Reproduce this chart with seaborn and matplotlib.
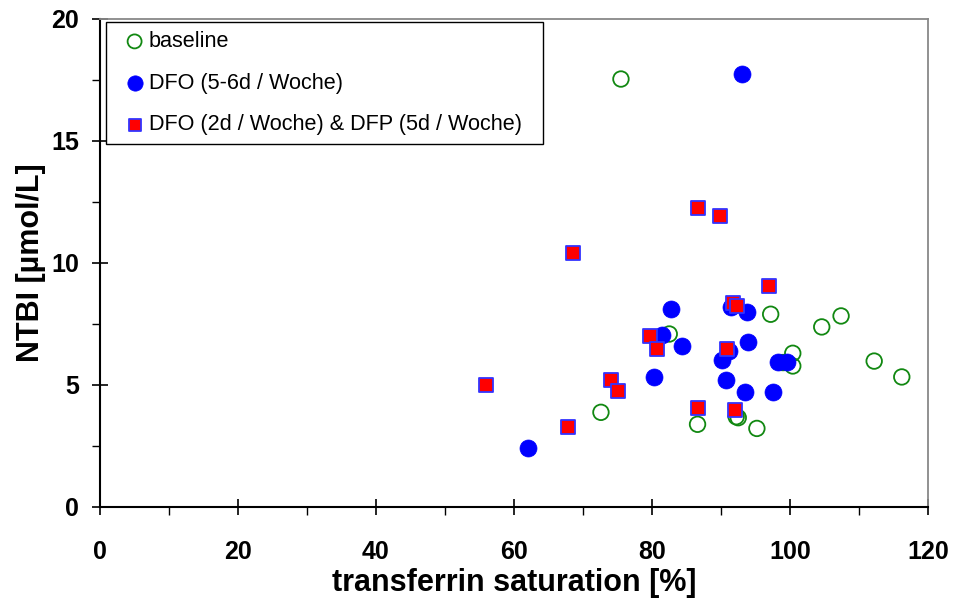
import matplotlib
matplotlib.use("Agg")
import matplotlib.pyplot as plt
import seaborn as sns
import pandas as pd
from matplotlib.ticker import MultipleLocator

# ---- data ----
baseline_tsat = [75.5, 82.5, 97.2, 104.6, 107.4, 100.4, 100.4, 99.0, 112.2, 116.2, 72.6, 86.6, 92.2, 92.5, 95.2]
baseline_ntbi = [17.54, 7.09, 7.90, 7.38, 7.83, 6.30, 5.78, 5.92, 5.98, 5.33, 3.88, 3.39, 3.70, 3.66, 3.22]

dfo_tsat = [93.0, 82.7, 81.4, 84.4, 91.4, 93.7, 93.9, 91.2, 90.2, 98.2, 99.6, 80.3, 90.7, 93.5, 97.6, 62.0]
dfo_ntbi = [17.75, 8.13, 7.05, 6.61, 8.21, 8.00, 6.76, 6.39, 6.02, 5.96, 5.96, 5.34, 5.20, 4.73, 4.70, 2.41]

combo_tsat = [86.7, 89.9, 68.5, 97.0, 91.7, 92.3, 79.7, 80.7, 90.9, 55.9, 74.1, 75.1, 86.7, 92.0, 67.8]
combo_ntbi = [12.24, 11.93, 10.42, 9.06, 8.37, 8.25, 7.01, 6.49, 6.46, 5.00, 5.19, 4.77, 4.07, 3.98, 3.27]

labels = ["baseline", "DFO (5-6d / Woche)", "DFO (2d / Woche) & DFP (5d / Woche)"]
x_ticks = [0, 20, 40, 60, 80, 100, 120]
y_ticks = [0, 5, 10, 15, 20]

sns.set_theme(style="white")
plt.rcParams["font.family"] = ["Liberation Sans", "DejaVu Sans"]
plt.rcParams.update({"text.color": "black", "axes.labelcolor": "black",
                     "xtick.color": "black", "ytick.color": "black"})

fig = plt.figure(figsize=(9.56, 6.05), dpi=100)
ax = fig.add_axes([100 / 956, 1 - 507 / 605, 828 / 956, 488 / 605])

df_b = pd.DataFrame({"tsat": baseline_tsat, "ntbi": baseline_ntbi})
df_d = pd.DataFrame({"tsat": dfo_tsat, "ntbi": dfo_ntbi})
df_c = pd.DataFrame({"tsat": combo_tsat, "ntbi": combo_ntbi})

sns.scatterplot(data=df_b, x="tsat", y="ntbi", ax=ax, marker="o", s=125,
                facecolor="none", edgecolor="#118811", linewidth=1.3,
                label=labels[0], zorder=3)
sns.scatterplot(data=df_d, x="tsat", y="ntbi", ax=ax, marker="o", s=150,
                color="#0000ff", edgecolor="#0000ff", linewidth=0.5,
                label=labels[1], zorder=4)
sns.scatterplot(data=df_c, x="tsat", y="ntbi", ax=ax, marker="s", s=105,
                color="#ff0000", edgecolor="#3333ff", linewidth=1.3,
                label=labels[2], zorder=5)

ax.set_xlim(0, 120)
ax.set_ylim(0, 20)
ax.set_xticks(x_ticks)
ax.set_yticks(y_ticks)
ax.xaxis.set_minor_locator(MultipleLocator(10))
ax.yaxis.set_minor_locator(MultipleLocator(2.5))
ax.tick_params(which="major", direction="inout", length=12, width=1.2,
               color="black", labelsize=18, bottom=True, left=True)
ax.tick_params(axis="x", which="major", pad=18)
ax.tick_params(axis="y", which="major", pad=9)
ax.tick_params(which="minor", direction="out", length=6, width=1.0,
               color="black", bottom=True, left=True)
for lab in ax.get_xticklabels() + ax.get_yticklabels():
    lab.set_fontweight("bold")

ax.set_xlabel("transferrin saturation [%]", fontsize=22, fontweight="bold", labelpad=3)
ax.set_ylabel("NTBI [µmol/L]", fontsize=22, fontweight="bold", labelpad=4)

for side in ["left", "bottom"]:
    ax.spines[side].set_color("black")
    ax.spines[side].set_linewidth(1.5)
for side in ["top", "right"]:
    ax.spines[side].set_color("#888888")
    ax.spines[side].set_linewidth(1.3)
ax.grid(False)

# legend box: x 106..543 px, top at 22 px (axes spans 100..928, 19..507)
leg_x0 = 6 / 828
leg_w = (543 - 106) / 828
leg_top = 1 - 3 / 488
leg = ax.legend(loc="upper left", bbox_to_anchor=(leg_x0, leg_top - 0.3, leg_w, 0.3),
                mode="expand", frameon=True,
                fancybox=False, framealpha=1, edgecolor="black", fontsize=15.6,
                handletextpad=-0.25, borderpad=0.42, labelspacing=0.95,
                handlelength=1.8, markerscale=0.9, borderaxespad=0)
leg.get_frame().set_linewidth(1.0)

fig.savefig("out.png", dpi=100)
